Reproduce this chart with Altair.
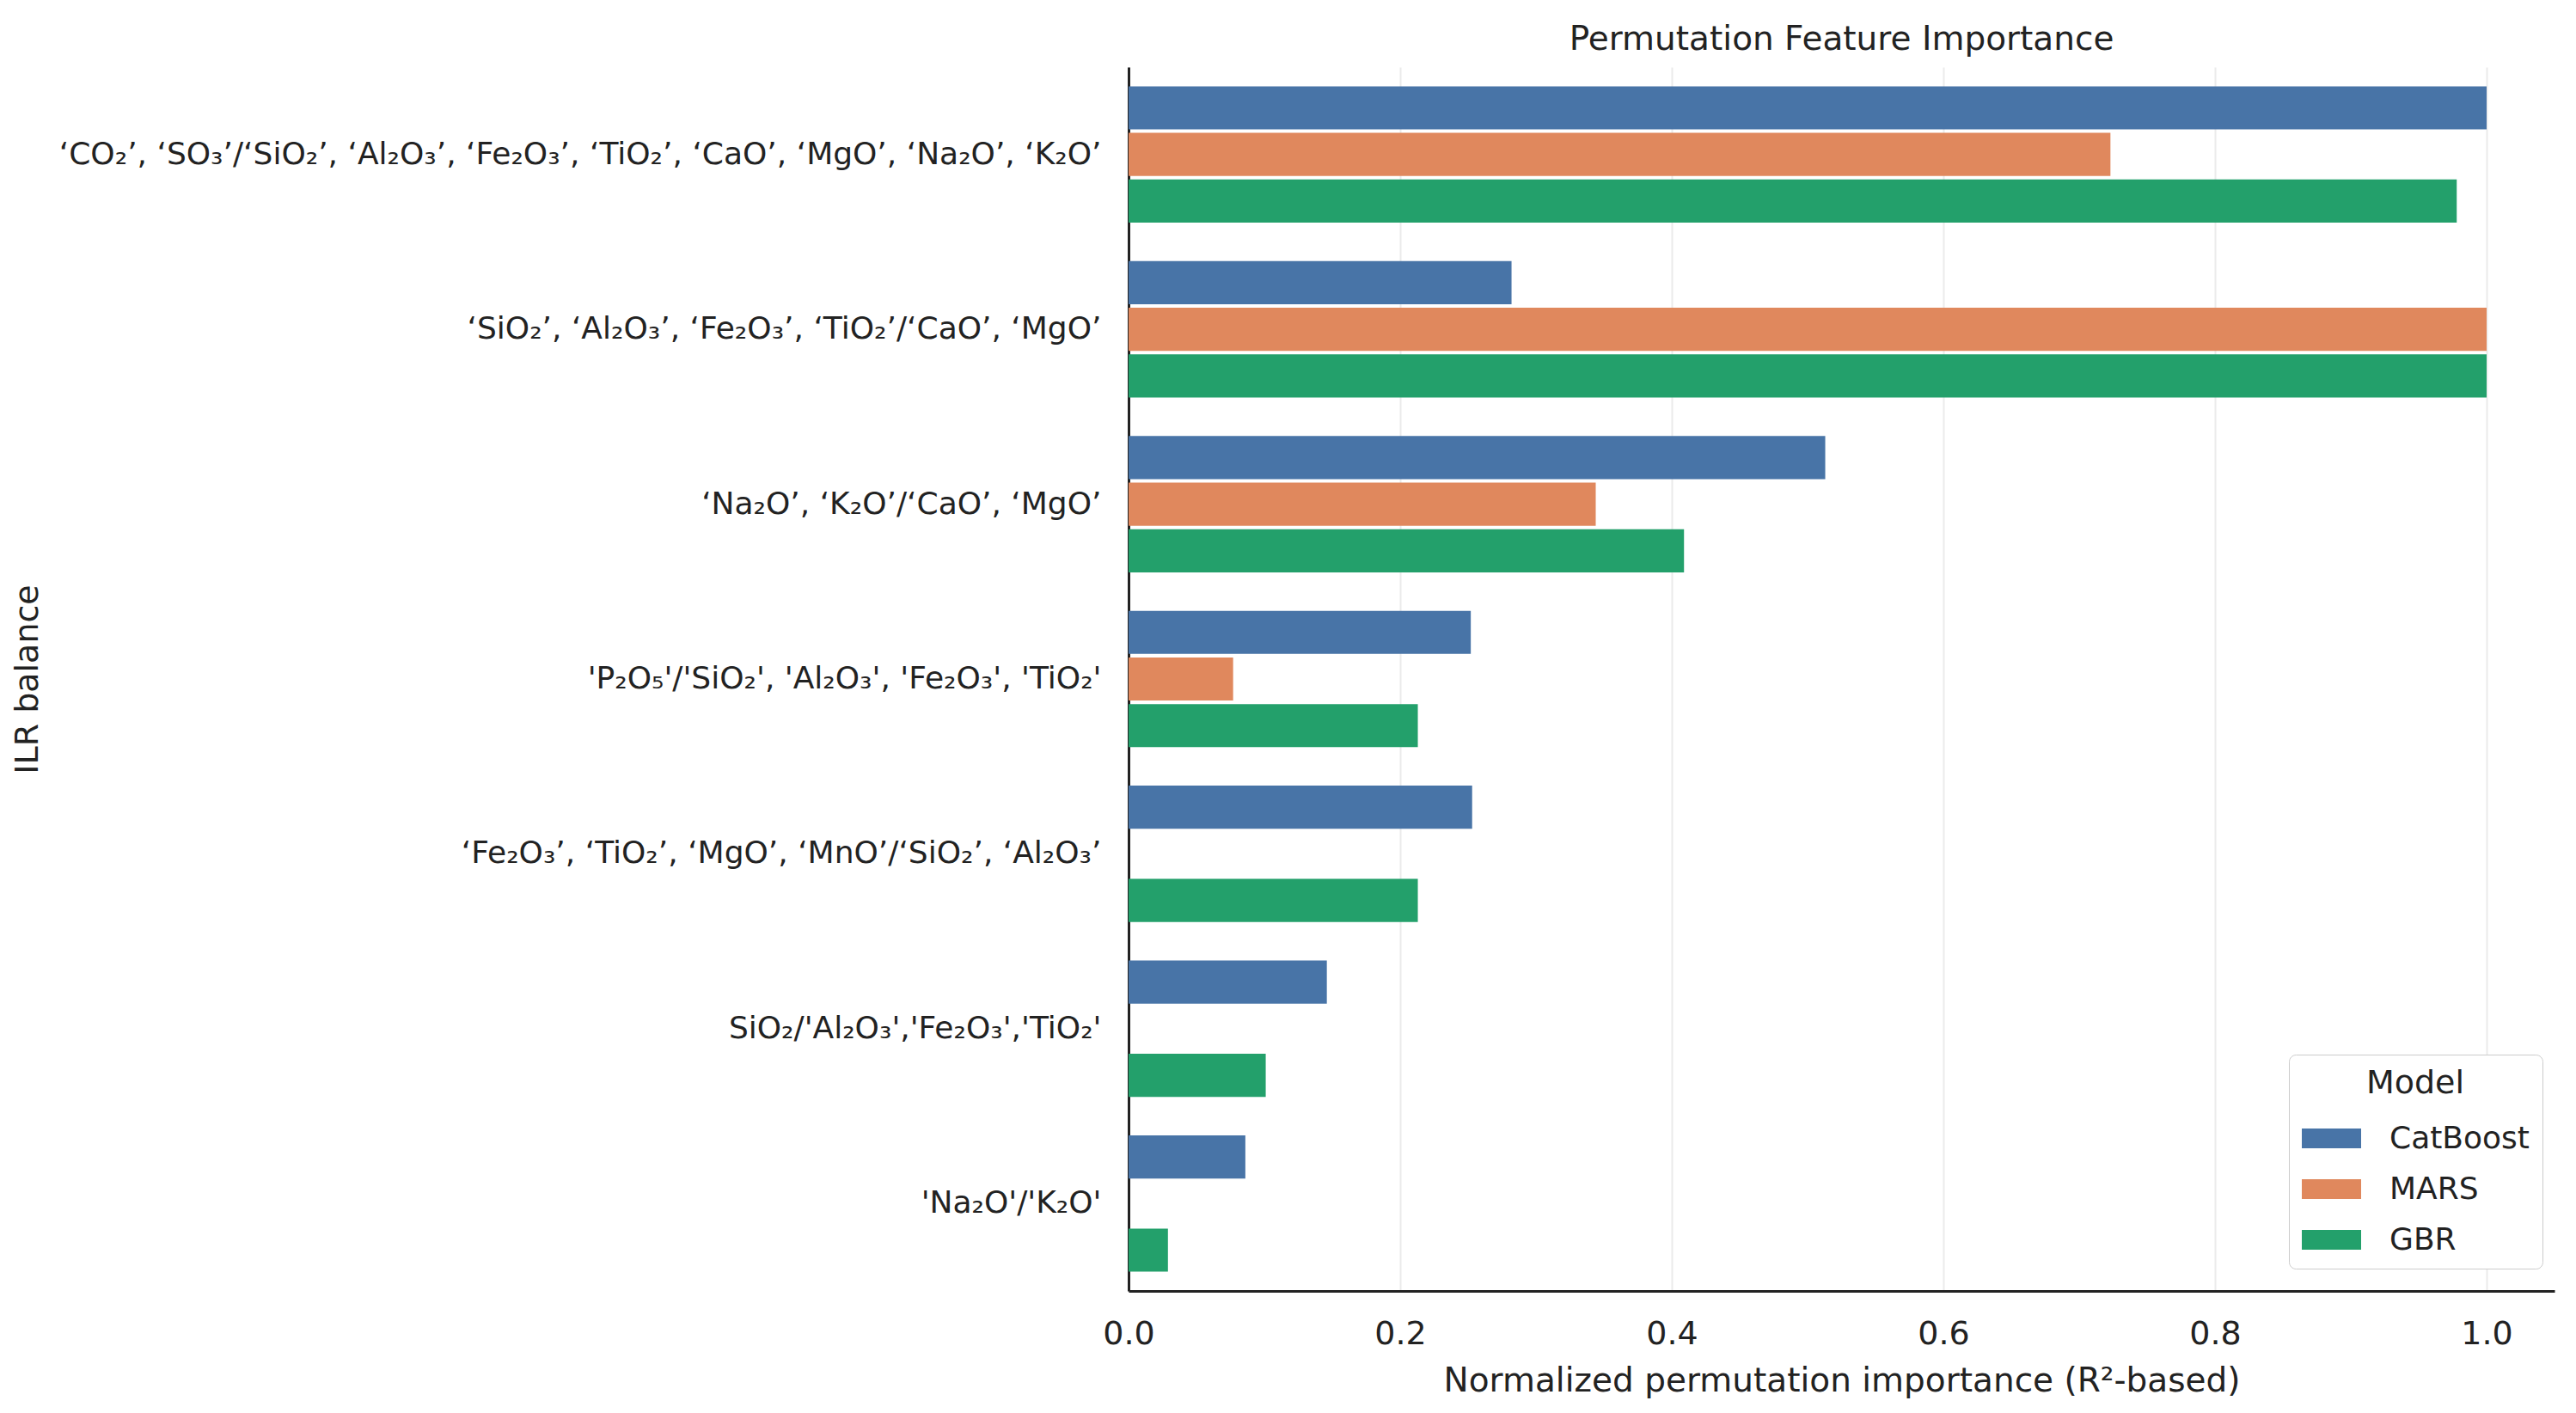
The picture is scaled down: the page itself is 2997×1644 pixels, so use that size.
import altair as alt
import pandas as pd

# ILR balances, top to bottom
balances = [
    "‘CO₂’, ‘SO₃’/‘SiO₂’, ‘Al₂O₃’, ‘Fe₂O₃’, ‘TiO₂’, ‘CaO’, ‘MgO’, ‘Na₂O’, ‘K₂O’",
    "‘SiO₂’, ‘Al₂O₃’, ‘Fe₂O₃’, ‘TiO₂’/‘CaO’, ‘MgO’",
    "‘Na₂O’, ‘K₂O’/‘CaO’, ‘MgO’",
    "'P₂O₅'/'SiO₂', 'Al₂O₃', 'Fe₂O₃', 'TiO₂'",
    "‘Fe₂O₃’, ‘TiO₂’, ‘MgO’, ‘MnO’/‘SiO₂’, ‘Al₂O₃’",
    "SiO₂/'Al₂O₃','Fe₂O₃','TiO₂'",
    "'Na₂O'/'K₂O'",
]

models = ["CatBoost", "MARS", "GBR"]
model_colors = ["#4874A7", "#E0885D", "#23A06B"]

# Normalized permutation importance per model, same order as balances
catboost = [1.000, 0.282, 0.513, 0.252, 0.253, 0.146, 0.086]
mars = [0.723, 1.000, 0.344, 0.077, 0.0, 0.0, 0.0]
gbr = [0.978, 1.000, 0.409, 0.213, 0.213, 0.101, 0.029]

x_ticks = [0.0, 0.2, 0.4, 0.6, 0.8, 1.0]

rows = []
for name, vals in zip(models, [catboost, mars, gbr]):
    for b, v in zip(balances, vals):
        rows.append({"ILR balance": b, "Model": name, "Importance": v})
df = pd.DataFrame(rows)

FONT = "DejaVu Sans"
TXT = "#222222"
PLOT_W = 1659
PLOT_H = 1424

legend_symbol = "M-1,-0.333L1,-0.333L1,0.333L-1,0.333Z"

chart = (
    alt.Chart(df)
    .mark_bar()
    .encode(
        y=alt.Y(
            "ILR balance:N",
            sort=balances,
            scale=alt.Scale(paddingInner=0.2, paddingOuter=0.1),
            axis=alt.Axis(
                title="ILR balance",
                titleFontSize=38,
                titleFontWeight="normal",
                titleColor=TXT,
                titleFont=FONT,
                titleX=-1262,
                titleY=PLOT_H / 2,
                titleAngle=270,
                titleBaseline="bottom",
                titleAlign="center",
                labelFontSize=36,
                labelFont=FONT,
                labelColor=TXT,
                labelPadding=32,
                labelLimit=2000,
                ticks=False,
                grid=False,
                domainColor=TXT,
                domainWidth=3,
            ),
        ),
        yOffset=alt.YOffset(
            "Model:N",
            sort=models,
            scale=alt.Scale(paddingInner=0.075, paddingOuter=0.0375),
        ),
        x=alt.X(
            "Importance:Q",
            scale=alt.Scale(domain=[0, 1.05], nice=False, zero=True),
            axis=alt.Axis(
                title="Normalized permutation importance (R²-based)",
                titleFontSize=39,
                titleFontWeight="normal",
                titleColor=TXT,
                titleFont=FONT,
                titlePadding=16,
                values=x_ticks,
                format=".1f",
                labelFontSize=38,
                labelFont=FONT,
                labelColor=TXT,
                labelPadding=31,
                labelFlush=False,
                ticks=False,
                grid=True,
                gridColor="#ebebeb",
                gridWidth=2,
                domainColor=TXT,
                domainWidth=3,
            ),
        ),
        color=alt.Color(
            "Model:N",
            sort=models,
            scale=alt.Scale(domain=models, range=model_colors),
            legend=alt.Legend(
                title="Model",
                orient="none",
                legendX=1350,
                legendY=1149,
                titleFontSize=38,
                titleFontWeight="normal",
                titleFont=FONT,
                titleColor=TXT,
                titleAnchor="middle",
                titlePadding=10,
                labelFontSize=36,
                labelFont=FONT,
                labelColor=TXT,
                labelOffset=33,
                labelLimit=500,
                symbolType=legend_symbol,
                symbolSize=4761,
                symbolStrokeWidth=0,
                symbolOpacity=1,
                rowPadding=6,
                padding=15,
                strokeColor="#cccccc",
                fillColor="white",
                cornerRadius=8,
            ),
        ),
    )
    .properties(
        width=PLOT_W,
        height=PLOT_H,
        title=alt.TitleParams(
            "Permutation Feature Importance",
            fontSize=39,
            fontWeight="normal",
            font=FONT,
            color=TXT,
            anchor="middle",
            offset=12,
        ),
        autosize=alt.AutoSizeParams(type="none"),
        padding={"left": 1313, "top": 78, "right": 25, "bottom": 142},
        background="white",
    )
    .configure_view(stroke=None)
)

chart.save("out.html", embed_options={"renderer": "svg", "actions": False})
